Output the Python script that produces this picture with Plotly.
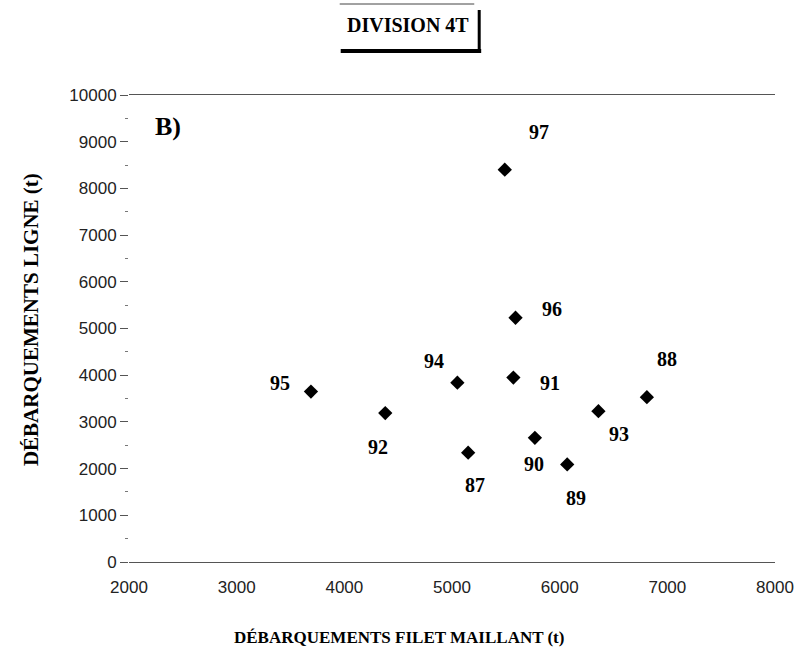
import plotly.graph_objects as go

# Data
years = ["87", "88", "89", "90", "91", "92", "93", "94", "95", "96", "97"]
filet_maillant = [5150, 6810, 6070, 5770, 5570, 4380, 6360, 5050, 3690, 5590, 5490]
ligne = [2340, 3530, 2090, 2660, 3950, 3190, 3230, 3840, 3650, 5230, 8400]

# label offsets in pixels (dx, dy with dy positive = up)
label_dx = [7, 20, 9, -1, 37, -7, 21, -23, -31, 36, 34]
label_dy = [-32, 38, -34, -26, -5, -34, -23, 22, 9, 9, 38]

x_ticks = [2000, 3000, 4000, 5000, 6000, 7000, 8000]
y_ticks = [0, 1000, 2000, 3000, 4000, 5000, 6000, 7000, 8000, 9000, 10000]
y_ticktext = [str(v) for v in y_ticks]
x_ticktext = [str(v) for v in x_ticks]

serif = "Liberation Serif, Times New Roman, serif"
sans = "Liberation Sans, Arial, sans-serif"

W, H = 806, 653
L, R, T, B = 129, 24, 95, 91
PW, PH = W - L - R, H - T - B


def px(xp):
    return (xp - L) / PW


def py(yp):
    return (H - B - yp) / PH


fig = go.Figure()
fig.add_trace(go.Scatter(
    x=filet_maillant, y=ligne, mode="markers",
    marker=dict(symbol="diamond", size=11, color="black"),
    showlegend=False, hoverinfo="skip"))

annotations = []
for xv, yv, lab, dx, dy in zip(filet_maillant, ligne, years, label_dx, label_dy):
    annotations.append(dict(
        x=xv, y=yv, xref="x", yref="y", text="<b>" + lab + "</b>", showarrow=False,
        xshift=dx, yshift=dy,
        font=dict(family=serif, size=20, color="black")))

annotations.append(dict(x=px(168), y=py(127), xref="paper", yref="paper", text="<b>B)</b>",
                        showarrow=False, xanchor="center", yanchor="middle",
                        font=dict(family=serif, size=26, color="black")))
annotations.append(dict(x=px(30), y=py(320), xref="paper", yref="paper",
                        text="<b>DÉBARQUEMENTS LIGNE (t)</b>", textangle=-90,
                        showarrow=False, xanchor="center", yanchor="middle",
                        font=dict(family=serif, size=21, color="black")))
annotations.append(dict(x=px(402), y=py(637), xref="paper", yref="paper",
                        text="<b>DÉBARQUEMENTS FILET MAILLANT (t)</b>",
                        showarrow=False, xanchor="center", yanchor="middle",
                        font=dict(family=serif, size=17, color="black")))
annotations.append(dict(x=px(411), y=py(25), xref="paper", yref="paper",
                        text="<b>DIVISION 4T</b>", showarrow=False,
                        xanchor="center", yanchor="middle",
                        font=dict(family=serif, size=20, color="black")))

shapes = [
    dict(type="line", xref="paper", yref="paper", x0=px(342), x1=px(478),
         y0=py(4), y1=py(4), line=dict(color="#444", width=1)),
    dict(type="line", xref="paper", yref="paper", x0=px(483), x1=px(483),
         y0=py(10), y1=py(53), line=dict(color="black", width=3)),
    dict(type="line", xref="paper", yref="paper", x0=px(343), x1=px(485),
         y0=py(51), y1=py(51), line=dict(color="black", width=4)),
]

fig.update_layout(
    width=W, height=H,
    margin=dict(l=L, r=R, t=T, b=B),
    paper_bgcolor="white", plot_bgcolor="white",
    annotations=annotations, shapes=shapes,
    xaxis=dict(range=[2000, 8000], tickvals=x_ticks, ticktext=x_ticktext,
               showgrid=False, zeroline=False,
               showline=True, mirror=True, linecolor="#555", linewidth=1,
               ticks="", ticklabelstandoff=10,
               tickfont=dict(family=sans, size=17, color="#222")),
    yaxis=dict(range=[0, 10000], tickvals=y_ticks, ticktext=y_ticktext,
               showgrid=False, zeroline=False,
               showline=False, ticks="outside", ticklen=8, tickcolor="#555",
               minor=dict(dtick=500, tick0=0, ticks="outside", ticklen=3, tickcolor="#777"),
               tickfont=dict(family=sans, size=17, color="#222")),
)

fig.write_html("out.html")
